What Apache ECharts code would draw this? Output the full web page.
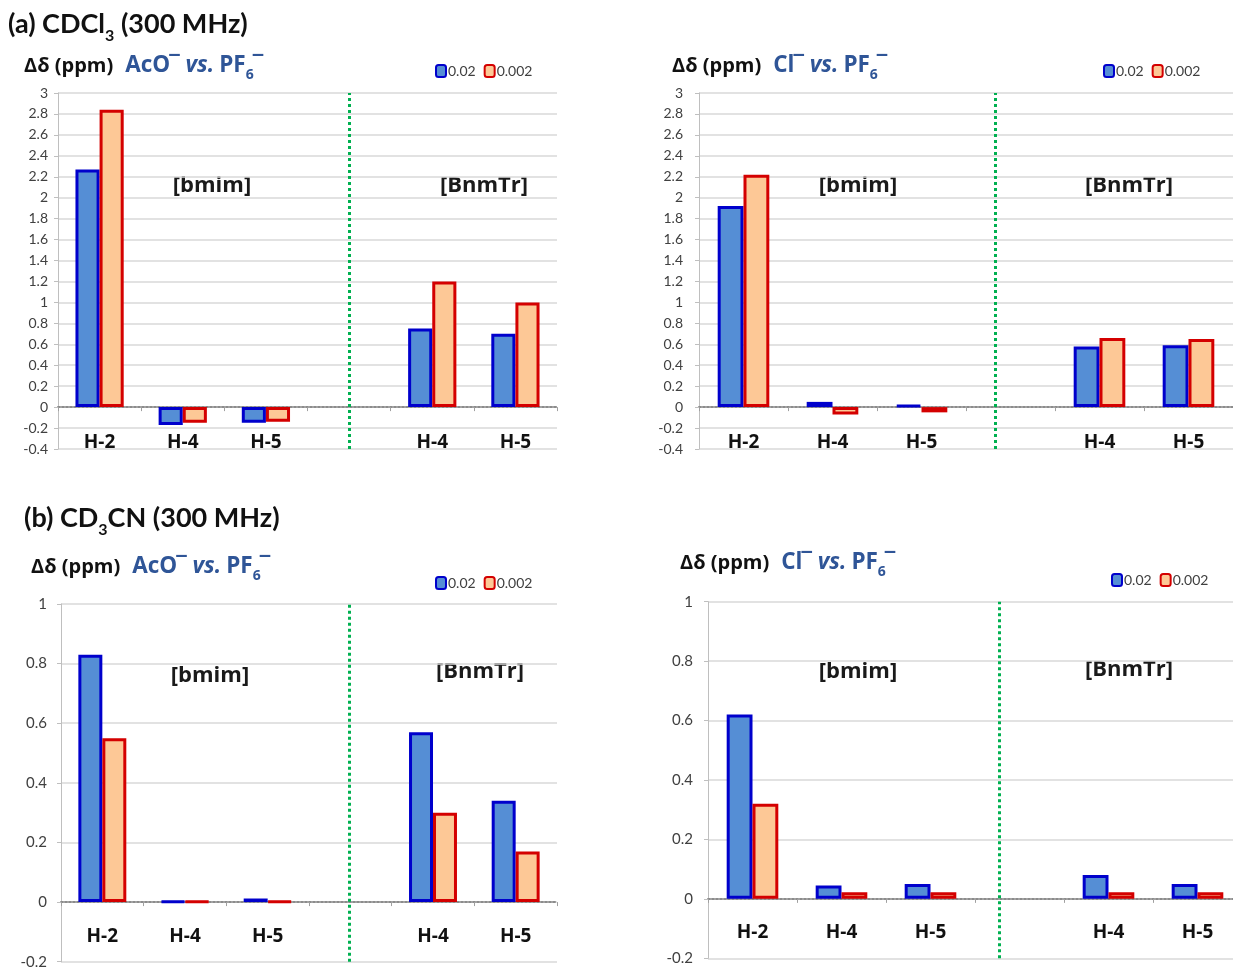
<!DOCTYPE html>
<html><head><meta charset="utf-8">
<script src="https://cdn.jsdelivr.net/npm/echarts@6/dist/echarts.min.js"></script>
<style>html,body{margin:0;padding:0;background:#fff}#c{width:1233px;height:968px}</style>
</head><body><div id="c"></div>
<script>
// ---- data ----
const categories = ['H-2', 'H-4', 'H-5', '', 'H-4', 'H-5'];
const seriesNames = ['0.02', '0.002'];
// (a) CDCl3, AcO- vs PF6-
const aAcO_conc1 = [2.27, -0.17, -0.15, null, 0.75, 0.70];
const aAcO_conc2 = [2.84, -0.15, -0.14, null, 1.20, 1.00];
// (a) CDCl3, Cl- vs PF6-
const aCl_conc1 = [1.92, 0.05, 0.02, null, 0.58, 0.59];
const aCl_conc2 = [2.22, -0.07, -0.05, null, 0.66, 0.65];
// (b) CD3CN, AcO- vs PF6-
const bAcO_conc1 = [0.83, 0.003, 0.012, null, 0.57, 0.34];
const bAcO_conc2 = [0.55, 0.002, 0.003, null, 0.30, 0.17];
// (b) CD3CN, Cl- vs PF6-
const bCl_conc1 = [0.62, 0.045, 0.05, null, 0.08, 0.05];
const bCl_conc2 = [0.32, 0.022, 0.022, null, 0.022, 0.022];
// y-axis ticks
const yAxisA = { min: -0.4, max: 3, interval: 0.2 };
const yAxisB = { min: -0.2, max: 1, interval: 0.2 };
// divider position along category axis (in category units, 0..6)
const dividerPos = [3.5, 3.33, 3.49, 3.27];
const groupLabels = ['[bmim]', '[BnmTr]'];

const panels = [
  { s1: aAcO_conc1, s2: aAcO_conc2, y: yAxisA, anion: 'AcO' },
  { s1: aCl_conc1, s2: aCl_conc2, y: yAxisA, anion: 'Cl' },
  { s1: bAcO_conc1, s2: bAcO_conc2, y: yAxisB, anion: 'AcO' },
  { s1: bCl_conc1, s2: bCl_conc2, y: yAxisB, anion: 'Cl' }
];

// ---- layout ----
const FONT = 'Lato, "Noto Sans", sans-serif';
const TFONT = '"Open Sans", "Noto Sans", sans-serif';
const grids = [
  { left: 58, top: 93, width: 499, height: 356 },
  { left: 699, top: 93, width: 534, height: 356 },
  { left: 61, top: 604, width: 496, height: 357.7 },
  { left: 708, top: 601.7, width: 534, height: 356.6 }
];
const xLabelMargin = [-16, -16, -35, -35];
const yLabelMargin = [10, 16, 14, 15];
const yLabelSize = [14, 14, 15, 15];
const legendPos = [[435, 64], [1103, 64], [435, 576], [1111, 573]];
const subTitlePos = [[24, 52], [672, 52], [31, 553], [680, 549]];
const groupPos = [
  [[212, 186], [484, 186]],
  [[858, 186], [1129, 186]],
  [[210, 676], [480, 672]],
  [[858, 672], [1129, 670]]
];

const blueStyle = { color: '#558ed5', borderColor: '#0000cc', borderWidth: 3 };
const redStyle = { color: '#fdc896', borderColor: '#d40000', borderWidth: 3 };
const BLUE_TXT = '#2f5597';

const xAxes = [], yAxes = [], series = [], legends = [], titles = [], graphics = [];

panels.forEach((p, i) => {
  // category axis (index 2i)
  xAxes.push({
    type: 'category', gridIndex: i, data: categories,
    axisLine: { onZero: true, lineStyle: { type: 'dotted', color: '#8c8c8c', width: 2 } },
    axisTick: { show: true, length: 4, lineStyle: { color: '#a0a0a0' } },
    axisLabel: { interval: 0, margin: xLabelMargin[i], fontSize: 19, fontWeight: 'bold', color: '#111', fontFamily: TFONT },
    splitLine: { show: false }
  });
  // hidden value axis for the divider (index 2i+1)
  xAxes.push({ type: 'value', gridIndex: i, min: 0, max: 6, show: false });
  yAxes.push({
    type: 'value', gridIndex: i, min: p.y.min, max: p.y.max, interval: p.y.interval,
    axisLine: { show: true, lineStyle: { color: '#bfbfbf', width: 1 } },
    axisTick: { show: true, length: 4, lineStyle: { color: '#bfbfbf' } },
    axisLabel: { margin: yLabelMargin[i], fontSize: yLabelSize[i], color: '#404040', fontFamily: FONT },
    splitLine: { show: true, lineStyle: { color: '#d9d9d9', width: 1.5 } }
  });
  series.push({
    type: 'bar', name: seriesNames[0], xAxisIndex: 2 * i, yAxisIndex: i, data: p.s1,
    barWidth: '29%', barGap: '0%', itemStyle: blueStyle, silent: true
  });
  series.push({
    type: 'bar', name: seriesNames[1], xAxisIndex: 2 * i, yAxisIndex: i, data: p.s2,
    barWidth: '29%', barGap: '0%', itemStyle: redStyle, silent: true
  });
  series.push({
    type: 'line', xAxisIndex: 2 * i + 1, yAxisIndex: i, data: [], silent: true,
    markLine: {
      silent: true, symbol: 'none', label: { show: false }, animation: false,
      lineStyle: { color: '#00b050', type: 'dotted', width: 3 },
      data: [{ xAxis: dividerPos[i] }]
    }
  });
  legends.push({
    data: seriesNames, left: legendPos[i][0], top: legendPos[i][1], orient: 'horizontal',
    itemWidth: 10, itemHeight: 12, itemGap: 8, padding: 0, selectedMode: false,
    textStyle: { fontSize: 14, color: '#404040', fontFamily: FONT, padding: [0, 0, 0, -3] }
  });
  const anionTxt = p.anion === 'AcO' ? '{b|AcO}{sup|¯}' : '{b|Cl}{sup|¯}';
  titles.push({
    left: subTitlePos[i][0], top: subTitlePos[i][1], padding: 0,
    text: '{k|Δδ (ppm)}' + anionTxt + '{bi| vs.} {b|PF}{sub|6}{sup|¯}',
    textStyle: {
      rich: {
        k: { fontSize: 20, color: '#111', fontFamily: TFONT, fontWeight: 'bold', lineHeight: 28, padding: [0, 12, 0, 0] },
        b: { fontSize: 22.5, color: BLUE_TXT, fontFamily: TFONT, fontWeight: 'bold', lineHeight: 28 },
        bi: { fontSize: 22.5, color: BLUE_TXT, fontFamily: TFONT, fontWeight: 'bold', fontStyle: 'italic', lineHeight: 28 },
        sub: { fontSize: 14, color: BLUE_TXT, fontFamily: TFONT, fontWeight: 'bold', verticalAlign: 'bottom', lineHeight: 14, padding: [0, 0, -2, 0] },
        sup: { fontSize: 21, color: BLUE_TXT, fontFamily: TFONT, fontWeight: 'bold', lineHeight: 28, padding: [0, 0, 0, -1] }
      }
    }
  });
  groupLabels.forEach((g, j) => {
    graphics.push({
      type: 'text', x: groupPos[i][j][0], y: groupPos[i][j][1], silent: true,
      style: { text: g, fontSize: 22, fontFamily: TFONT, fill: '#1a1a1a', align: 'center', verticalAlign: 'middle', fontWeight: 'bold' }
    });
  });
});

const headRich = {
  a: { fontSize: 27, fontWeight: 'bold', color: '#111', fontFamily: FONT, lineHeight: 32 },
  s: { fontSize: 16, fontWeight: 'bold', color: '#111', fontFamily: FONT, verticalAlign: 'bottom', lineHeight: 16, padding: [0, 0, -4, 0] }
};
titles.push({ left: 8, top: 8, padding: 0, text: '{a|(a) CDCl}{s|3}{a| (300 MHz)}', textStyle: { rich: headRich } });
titles.push({ left: 24, top: 502, padding: 0, text: '{a|(b) CD}{s|3}{a|CN (300 MHz)}', textStyle: { rich: headRich } });

const chart = echarts.init(document.getElementById('c'), null, { renderer: 'canvas' });
chart.setOption({
  backgroundColor: '#fff',
  animation: false,
  title: titles,
  legend: legends,
  grid: grids.map(g => Object.assign({ containLabel: false, outerBoundsMode: 'none' }, g)),
  xAxis: xAxes,
  yAxis: yAxes,
  series: series,
  graphic: graphics
});
</script></body></html>
